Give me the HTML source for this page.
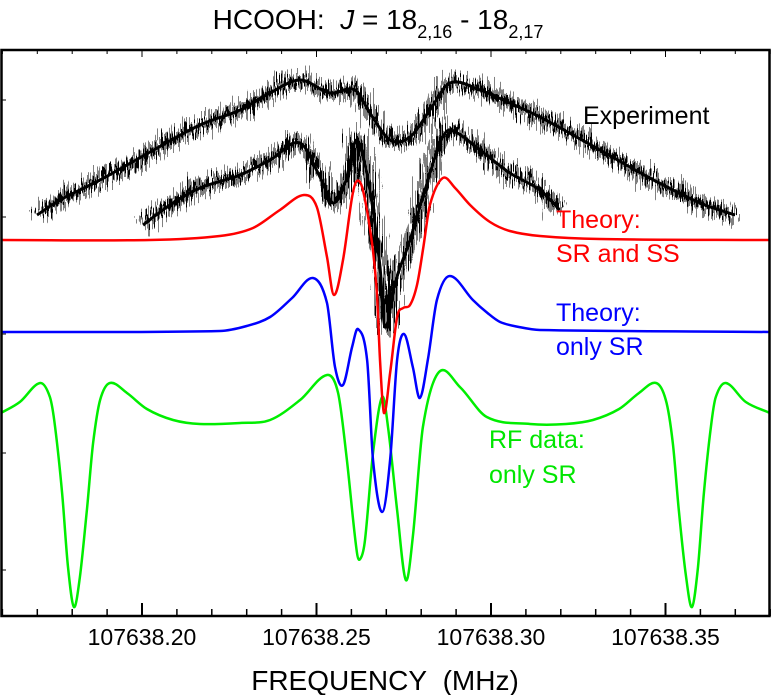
<!DOCTYPE html>
<html><head><meta charset="utf-8">
<style>
html,body{margin:0;padding:0;background:#fff;}
svg{display:block;font-family:"Liberation Sans",Arial,sans-serif;}
</style></head>
<body>
<svg id="chart" width="771" height="695" viewBox="0 0 771 695" xmlns="http://www.w3.org/2000/svg">
  <defs>
    <filter id="noisy" x="-5%" y="-30%" width="110%" height="160%">
      <feTurbulence type="fractalNoise" baseFrequency="1.2 0.02" numOctaves="2" seed="3" result="t"/>
      <feDisplacementMap in="SourceGraphic" in2="t" scale="38" xChannelSelector="R" yChannelSelector="G"/>
    </filter>
  </defs>
  <text x="378" y="29" font-size="28" text-anchor="middle">HCOOH:&#160; <tspan font-style="italic">J</tspan> = 18<tspan font-size="18" dy="9">2,16</tspan><tspan dy="-9"> - 18</tspan><tspan font-size="18" dy="9">2,17</tspan></text>
  <g id="marks"></g>
  <rect x="1.5" y="50" width="768" height="566" fill="none" stroke="#000" stroke-width="2.5"/>
  <g id="axes"></g>
  <text x="385" y="690" font-size="28" text-anchor="middle">FREQUENCY&#160; (MHz)</text>
  <text x="583" y="124" font-size="25">Experiment</text>
  <text x="556" y="228" font-size="25" fill="#ff0000">Theory:</text>
  <text x="556" y="262" font-size="25" fill="#ff0000">SR and SS</text>
  <text x="556" y="321" font-size="25" fill="#0000ff">Theory:</text>
  <text x="556" y="355" font-size="25" fill="#0000ff">only SR</text>
  <text x="489" y="448" font-size="25" fill="#00e600">RF data:</text>
  <text x="489" y="483" font-size="25" fill="#00e600">only SR</text>
</svg>
<script>
// Frequencies are offsets in MHz from 107638 MHz; intensities in arbitrary units.
const xTicks = [0.20, 0.25, 0.30, 0.35];
const xTickLabels = ["107638.20", "107638.25", "107638.30", "107638.35"];

const expUpperFreq = [0.1699,0.1765,0.1880,0.2023,0.2166,0.2281,0.2367,0.2453,0.2539,0.2610,0.2653,0.2711,0.2768,0.2825,0.2882,0.2968,0.3054,0.3140,0.3312,0.3455,0.3599,0.3699];
const expUpperVal  = [401,416,436,464,491,506,523,536,523,526,503,476,479,506,533,526,513,499,466,438,413,401];

const expLowerFreq = [0.2003,0.2080,0.2166,0.2281,0.2367,0.2453,0.2510,0.2547,0.2582,0.2616,0.2653,0.2682,0.2696,0.2725,0.2768,0.2811,0.2854,0.2882,0.2968,0.3054,0.3140,0.3197];
const expLowerVal  = [391,411,428,441,456,473,439,413,433,476,426,349,289,333,376,426,473,486,466,443,426,406];

const redFreq = [0.1596,0.2023,0.2223,0.2318,0.2395,0.2464,0.2501,0.2530,0.2550,0.2576,0.2602,0.2616,0.2633,0.2659,0.2673,0.2682,0.2693,0.2711,0.2731,0.2748,0.2768,0.2788,0.2805,0.2825,0.2862,0.2897,0.2940,0.2997,0.3054,0.3140,0.3312,0.3799];
const redVal  = [376,376,380,388,406,421,409,359,321,356,419,435,426,373,323,256,203,243,299,308,311,331,366,411,438,428,411,394,385,380,377,376];

const blueFreq = [0.1596,0.2223,0.2300,0.2367,0.2430,0.2490,0.2530,0.2553,0.2576,0.2602,0.2619,0.2645,0.2662,0.2688,0.2711,0.2731,0.2751,0.2776,0.2796,0.2819,0.2845,0.2882,0.2948,0.2990,0.3026,0.3080,0.3140,0.3799];
const blueVal  = [284,285,290,299,318,338,313,249,231,269,287,256,156,104,156,256,282,249,218,256,316,340,316,303,294,289,286,284];

const greenFreq = [0.1596,0.1650,0.1708,0.1736,0.1751,0.1771,0.1788,0.1805,0.1822,0.1842,0.1860,0.1880,0.1908,0.1957,0.2014,0.2089,0.2166,0.2281,0.2367,0.2453,0.2530,0.2562,0.2587,0.2616,0.2627,0.2639,0.2662,0.2688,0.2705,0.2731,0.2756,0.2776,0.2805,0.2851,0.2911,0.2988,0.3112,0.3215,0.3292,0.3367,0.3424,0.3473,0.3501,0.3521,0.3538,0.3559,0.3576,0.3593,0.3610,0.3630,0.3644,0.3673,0.3730,0.3799];
const greenVal  = [203,214,233,219,189,123,49,9,39,106,173,216,233,223,207,196,192,193,196,216,241,223,156,63,58,76,163,219,189,106,36,79,189,244,229,199,192,192,196,207,223,233,216,173,106,39,9,49,123,189,219,233,214,203];

const NS = "http://www.w3.org/2000/svg";
const X0 = 142, PXPERMHZ = 3490;
function xScale(f){ return X0 + (f - 0.20) * PXPERMHZ; }
function yScale(v){ return 616 - v; }

const marks = document.getElementById('marks');
const axes = document.getElementById('axes');

// cubic Hermite with x-monotone control points (no loops with uneven spacing)
function smoothPath(fs, vs){
  const pts = fs.map((f, i) => [xScale(f), yScale(vs[i])]);
  const n = pts.length;
  const m = pts.map((p, i) => {
    const a = pts[Math.max(0, i - 1)], b = pts[Math.min(n - 1, i + 1)];
    return (b[1] - a[1]) / (b[0] - a[0]);
  });
  let d = "M" + pts[0][0].toFixed(1) + "," + pts[0][1].toFixed(1);
  for (let i = 0; i < n - 1; i++){
    const p1 = pts[i], p2 = pts[i + 1];
    const dx = (p2[0] - p1[0]) / 3;
    d += "C" + (p1[0] + dx).toFixed(1) + "," + (p1[1] + m[i] * dx).toFixed(1) + " " +
         (p2[0] - dx).toFixed(1) + "," + (p2[1] - m[i + 1] * dx).toFixed(1) + " " +
         p2[0].toFixed(1) + "," + p2[1].toFixed(1);
  }
  return d;
}

function addBand(fs, vs, name){
  const band = document.createElementNS(NS, 'path');
  band.setAttribute('d', smoothPath(fs, vs));
  band.setAttribute('fill', 'none');
  band.setAttribute('stroke', '#000');
  band.setAttribute('stroke-width', '10');
  band.setAttribute('stroke-linejoin', 'round');
  band.setAttribute('filter', 'url(#noisy)');
  
  
  marks.appendChild(band);
  const core = document.createElementNS(NS, 'path');
  core.setAttribute('d', smoothPath(fs, vs));
  core.setAttribute('fill', 'none');
  core.setAttribute('stroke', '#000');
  core.setAttribute('stroke-width', '3');
  
  
  marks.appendChild(core);
}

function addLine(fs, vs, color, name){
  const p = document.createElementNS(NS, 'path');
  p.setAttribute('d', smoothPath(fs, vs));
  p.setAttribute('fill', 'none');
  p.setAttribute('stroke', color);
  p.setAttribute('stroke-width', '2.5');
  p.setAttribute('stroke-linejoin', 'round');
  
  
  marks.appendChild(p);
}

addBand(expUpperFreq, expUpperVal, 'experiment-trace-upper');
addBand(expLowerFreq, expLowerVal, 'experiment-trace-lower');
addLine(greenFreq, greenVal, '#00ee00', 'rf-data-curve');
addLine(blueFreq, blueVal, '#0000ff', 'theory-sr-curve');
addLine(redFreq, redVal, '#ff0000', 'theory-sr-ss-curve');

for (let k = 16; k <= 38; k++){
  const f = k / 100;
  const x = xScale(f);
  const major = (k % 5 === 0);
  const len = major ? 13 : 7;
  const b = document.createElementNS(NS, 'line');
  b.setAttribute('x1', x); b.setAttribute('x2', x);
  b.setAttribute('y1', 616); b.setAttribute('y2', 616 - len);
  b.setAttribute('stroke', '#000'); b.setAttribute('stroke-width', major ? 2 : 1.5);
  
  
  axes.appendChild(b);
  const t = document.createElementNS(NS, 'line');
  t.setAttribute('x1', x); t.setAttribute('x2', x);
  t.setAttribute('y1', 50); t.setAttribute('y2', 50 + (major ? 7 : 4));
  t.setAttribute('stroke', '#000'); t.setAttribute('stroke-width', 1);
  
  
  axes.appendChild(t);
}
for (let i = 0; i < xTicks.length; i++){
  const tx = document.createElementNS(NS, 'text');
  tx.setAttribute('x', xScale(xTicks[i]));
  tx.setAttribute('y', 645);
  tx.setAttribute('font-size', '23');
  tx.setAttribute('text-anchor', 'middle');
  tx.textContent = xTickLabels[i];
  
  
  axes.appendChild(tx);
}
const yTickVals = [100, 217, 334, 453, 570];
for (const yv of yTickVals){
  const l = document.createElementNS(NS, 'line');
  l.setAttribute('x1', 1); l.setAttribute('x2', 6);
  l.setAttribute('y1', yv); l.setAttribute('y2', yv);
  l.setAttribute('stroke', '#000'); l.setAttribute('stroke-width', 1);
  
  
  axes.appendChild(l);
}
</script>
</body></html>
